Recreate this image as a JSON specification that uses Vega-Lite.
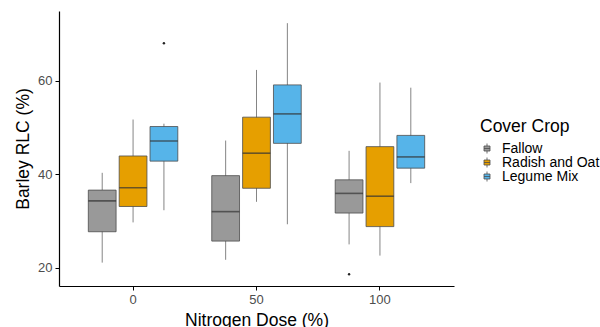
{
  "$schema": "https://vega.github.io/schema/vega-lite/v6.json",
  "width": 395,
  "height": 275,
  "autosize": "none",
  "padding": {"left": 59, "top": 11, "right": 146, "bottom": 41},
  "background": "white",
  "config": {
    "font": "Liberation Sans",
    "view": {"stroke": null},
    "axis": {"grid": false, "domainColor": "black", "domainWidth": 1.2, "tickColor": "black", "tickWidth": 1, "tickSize": 4, "labelColor": "#4D4D4D", "labelFontSize": 13, "titleColor": "black", "titleFontSize": 17.5, "titleFontWeight": "normal", "labelFont": "Liberation Sans", "titleFont": "Liberation Sans"}
  },
  "datasets": {
    "boxes": [
      {"dose": "0", "crop": "Fallow", "lower": 21.1, "q1": 27.7, "median": 34.3, "q3": 36.6, "upper": 40.3},
      {"dose": "0", "crop": "Radish and Oat", "lower": 29.7, "q1": 33.1, "median": 37.1, "q3": 43.9, "upper": 51.7},
      {"dose": "0", "crop": "Legume Mix", "lower": 32.3, "q1": 42.8, "median": 47.1, "q3": 50.2, "upper": 50.8},
      {"dose": "50", "crop": "Fallow", "lower": 21.7, "q1": 25.7, "median": 32.0, "q3": 39.7, "upper": 47.2},
      {"dose": "50", "crop": "Radish and Oat", "lower": 34.1, "q1": 37.0, "median": 44.5, "q3": 52.2, "upper": 62.3},
      {"dose": "50", "crop": "Legume Mix", "lower": 29.3, "q1": 46.6, "median": 52.9, "q3": 59.1, "upper": 72.3},
      {"dose": "100", "crop": "Fallow", "lower": 25.0, "q1": 31.7, "median": 35.9, "q3": 38.8, "upper": 45.0},
      {"dose": "100", "crop": "Radish and Oat", "lower": 22.6, "q1": 28.8, "median": 35.3, "q3": 45.9, "upper": 59.6},
      {"dose": "100", "crop": "Legume Mix", "lower": 38.1, "q1": 41.3, "median": 43.7, "q3": 48.3, "upper": 58.5}
    ],
    "outliers": [
      {"dose": "0", "crop": "Legume Mix", "value": 68.0},
      {"dose": "100", "crop": "Fallow", "value": 18.6}
    ]
  },
  "encoding": {
    "x": {"field": "dose", "type": "nominal", "sort": ["0", "50", "100"],
          "scale": {"paddingInner": 0.25, "paddingOuter": 0.225},
          "axis": {"title": "Nitrogen Dose (%)", "labelAngle": 0, "labelPadding": 3, "titlePadding": 5}},
    "xOffset": {"field": "crop", "type": "nominal", "sort": ["Fallow", "Radish and Oat", "Legume Mix"],
                "scale": {"paddingInner": 0.1, "paddingOuter": 0.05}}
  },
  "layer": [
    {
      "data": {"name": "boxes"},
      "mark": {"type": "rule", "color": "#666666", "strokeWidth": 0.8},
      "encoding": {
        "y": {"field": "lower", "type": "quantitative", "scale": {"domain": [16.1, 74.9], "nice": false, "zero": false},
              "axis": {"title": "Barley RLC (%)", "values": [20, 40, 60], "labelPadding": 3, "titlePadding": 5}},
        "y2": {"field": "upper"}
      }
    },
    {
      "data": {"name": "boxes"},
      "mark": {"type": "bar", "stroke": "#4d4d4d", "strokeWidth": 0.8, "opacity": 1},
      "encoding": {
        "y": {"field": "q1", "type": "quantitative"},
        "y2": {"field": "q3"},
        "color": {"field": "crop", "type": "nominal", "sort": ["Fallow", "Radish and Oat", "Legume Mix"],
                  "scale": {"domain": ["Fallow", "Radish and Oat", "Legume Mix"], "range": ["#999999", "#E69F00", "#56B4E9"]},
                  "legend": {"title": "Cover Crop", "orient": "none", "legendX": 421, "legendY": 107, "padding": 0,
                             "titleFontSize": 17.5, "titleFontWeight": "normal", "titleColor": "black", "titleFont": "Liberation Sans",
                             "labelFontSize": 14, "labelColor": "black", "labelFont": "Liberation Sans",
                             "symbolType": "M-0.6,-0.5H0.6V0.5H-0.6Z M-0.6,0H0.6 M0,-1V-0.5 M0,0.5V1",
                             "symbolSize": 100, "symbolStrokeColor": "#4d4d4d", "symbolStrokeWidth": 0.8,
                             "rowPadding": -1, "titlePadding": 6, "labelOffset": 8}}
      }
    },
    {
      "data": {"name": "boxes"},
      "mark": {"type": "tick", "color": "#333333", "thickness": 1.6, "size": 27.8, "orient": "horizontal"},
      "encoding": {
        "y": {"field": "median", "type": "quantitative"}
      }
    },
    {
      "data": {"name": "outliers"},
      "mark": {"type": "point", "filled": true, "color": "#222222", "size": 6, "opacity": 1},
      "encoding": {
        "y": {"field": "value", "type": "quantitative"}
      }
    }
  ]
}
